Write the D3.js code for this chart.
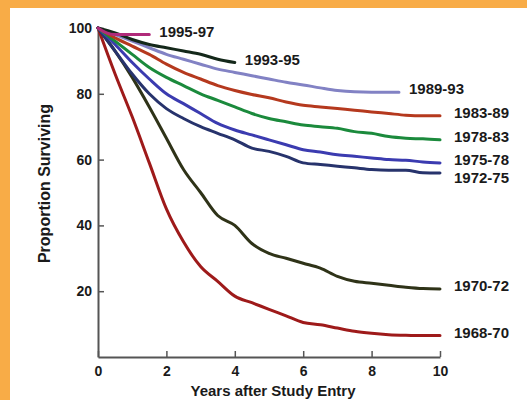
<!DOCTYPE html>
<html>
<head>
<meta charset="utf-8">
<script src="https://cdn.jsdelivr.net/npm/d3@7"></script>
<style>
  body { margin: 0; background: #f8ac47; }
  svg { display: block; }
  text { font-family: "Liberation Sans", Arial, sans-serif; font-weight: bold; fill: #1a1a1a; }
</style>
</head>
<body>
<script>
// Survival curves by study entry cohort

// 1. Data

var years = [0, 0.5, 1, 1.5, 2, 2.5, 3, 3.5, 4, 4.5, 5, 5.5, 6, 6.5, 7, 7.5, 8, 8.5, 9, 9.5, 10];

var c1968 = [100, 86, 73, 59, 45, 35, 27.5, 23, 18.5, 16.5, 14.5, 12.5, 10.5, 9.8, 8.8, 7.8, 7.2, 6.8, 6.6, 6.5, 6.5];
var c1970 = [100, 93, 85, 76, 66.5, 57, 50, 43, 40, 34.5, 31.5, 30, 28.5, 27, 24.5, 23, 22.4, 21.8, 21.2, 20.8, 20.7];
var c1972 = [100, 93, 86, 80, 75.5, 72.5, 70, 68, 66, 63.5, 62.5, 61, 59, 58.5, 58, 57.5, 57, 56.8, 56.8, 56, 55.9];
var c1975 = [100, 95, 89.5, 84.5, 80, 77, 74, 71, 69, 67.5, 66, 64.5, 63, 62.3, 61.5, 61, 60.5, 60, 59.8, 59.3, 59];
var c1978 = [100, 96, 92, 88, 85, 82.5, 80, 78, 76, 74, 72.5, 71.5, 70.5, 70, 69.5, 68.5, 68, 67, 66.5, 66.3, 66];
var c1983 = [100, 97, 94.5, 92, 89, 86.5, 84.5, 82.5, 81, 79.8, 78.8, 77.5, 76.5, 76, 75.5, 75, 74.5, 74, 73.5, 73.3, 73.3];
var c1989 = [100, 98, 96, 94, 92, 90.5, 89, 87.5, 86.5, 85.5, 84.5, 83.5, 82.7, 81.8, 81, 80.6, 80.5, 80.5];
var years1989 = [0, 0.5, 1, 1.5, 2, 2.5, 3, 3.5, 4, 4.5, 5, 5.5, 6, 6.5, 7, 7.5, 8, 8.8];
var c1993 = [100, 98.5, 96.5, 95, 94, 93, 92, 90.5, 89.5];
var c1995 = [100, 98.5, 98, 98, 98];
var years1995 = [0, 0.25, 0.5, 1, 1.5];

var cohorts = ["1968-70", "1970-72", "1972-75", "1975-78", "1978-83", "1983-89", "1989-93", "1993-95", "1995-97"];
var xTicks = [0, 2, 4, 6, 8, 10];
var yTicks = [20, 40, 60, 80, 100];

var colors = ["#9e1a1a", "#2f3318", "#27336c", "#3b3bb0", "#1b8a3c", "#b5391e", "#8282c4", "#14281a", "#b02a7a"];

var series = [
  { name: cohorts[0], x: years, y: c1968 },
  { name: cohorts[1], x: years, y: c1970 },
  { name: cohorts[2], x: years, y: c1972 },
  { name: cohorts[3], x: years, y: c1975 },
  { name: cohorts[4], x: years, y: c1978 },
  { name: cohorts[5], x: years, y: c1983 },
  { name: cohorts[6], x: years1989, y: c1989 },
  { name: cohorts[7], x: years, y: c1993 },
  { name: cohorts[8], x: years1995, y: c1995 }
];

// 2. Size and scales

var W = 527, H = 400;
var margin = {top: 28, right: 87, bottom: 43, left: 98},
    width = W - margin.left - margin.right,
    height = H - margin.top - margin.bottom;

var x = d3.scaleLinear().domain([0, 10]).range([0, width]);
var y = d3.scaleLinear().domain([0, 100]).range([height, 0]);

var root = d3.select("body").append("svg")
    .attr("width", W)
    .attr("height", H);

// panel (orange frame on left and top)
root.append("rect")
    .attr("x", 10).attr("y", 8)
    .attr("width", W - 10).attr("height", H - 8)
    .attr("fill", "#ffffff");

var svg = root.append("g")
    .attr("transform", "translate(" + margin.left + "," + margin.top + ")");

// 3. Axes

var xAxis = svg.append("g")
    .attr("transform", "translate(0," + height + ")")
    .call(d3.axisBottom(x).tickValues(xTicks).tickSizeInner(-6).tickSizeOuter(0).tickPadding(14));

var yAxis = svg.append("g")
    .call(d3.axisLeft(y).tickValues(yTicks).tickSizeInner(-6).tickSizeOuter(0).tickPadding(14));

[xAxis, yAxis].forEach(function(a) {
  a.select(".domain").attr("stroke", "#555").attr("stroke-width", 2);
  a.selectAll(".tick line").attr("stroke", "#555").attr("stroke-width", 1.5);
  a.selectAll(".tick text")
    .attr("font-family", "Liberation Sans, Arial, sans-serif")
    .attr("font-weight", "bold")
    .attr("font-size", 14)
    .attr("fill", "#1a1a1a");
});
xAxis.selectAll(".tick text").attr("dy", "0.71em").attr("y", 9);
yAxis.selectAll(".tick text").attr("x", -6);

// axis titles
svg.append("text")
    .attr("transform", "translate(" + (-48) + "," + (height / 2 - 9) + ") rotate(-90)")
    .attr("text-anchor", "middle")
    .attr("font-size", 16)
    .text("Proportion Surviving");

svg.append("text")
    .attr("x", width / 2 + 4)
    .attr("y", height + 39)
    .attr("text-anchor", "middle")
    .attr("font-size", 15)
    .text("Years after Study Entry");

// 4. Lines

var line = d3.line()
    .x(function(d) { return x(d[0]); })
    .y(function(d) { return y(d[1]); })
    .curve(d3.curveMonotoneX);

series.forEach(function(s, i) {
  var pts = s.y.map(function(v, j) { return [s.x[j], v]; });
  s.pts = pts;
  svg.append("path")
    .datum(pts)
    .attr("fill", "none")
    .attr("stroke", colors[i])
    .attr("stroke-width", 3)
    .attr("stroke-linejoin", "round")
    .attr("stroke-linecap", "round")
    .attr("d", line);
});

// 5. Labels at line ends, nudged apart

var labels = series.map(function(s) {
  var last = s.pts[s.pts.length - 1];
  return {
    name: s.name,
    lx: x(last[0]) + (last[0] >= 10 ? 14 : 10),
    ly: y(last[1]) - 3
  };
});

var full = labels.filter(function(d) { return d.lx > x(10); })
    .sort(function(a, b) { return a.ly - b.ly; });
for (var i = 1; i < full.length; i++) {
  if (full[i].ly - full[i - 1].ly < 18) full[i].ly = full[i - 1].ly + 18;
}

svg.selectAll(".label")
    .data(labels)
    .enter().append("text")
    .attr("class", "label")
    .attr("x", function(d) { return d.lx; })
    .attr("y", function(d) { return d.ly; })
    .attr("dy", "0.35em")
    .attr("font-size", 15)
    .text(function(d) { return d.name; });
</script>
</body>
</html>
